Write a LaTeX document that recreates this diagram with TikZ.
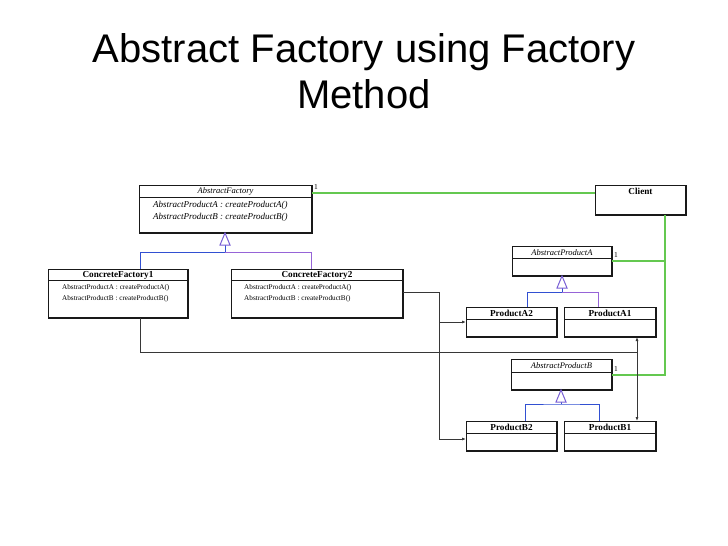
\documentclass[tikz,border=0pt]{standalone}
\usepackage{fontspec}
\setmainfont{Liberation Serif}
\newfontfamily\titlefont{Liberation Sans}
\usetikzlibrary{arrows.meta}
\definecolor{umlgreen}{RGB}{100,200,80}
\definecolor{umlblue}{RGB}{50,80,210}
\definecolor{umlviolet}{RGB}{150,100,215}
\definecolor{umlline}{RGB}{55,55,55}
\definecolor{umlbox}{RGB}{25,25,25}
\tikzset{
 classbox/.style={draw=umlbox, line width=1pt, fill=white, inner sep=0pt, outer sep=0pt},
 clsname/.style={font=\bfseries\fontsize{9.2}{10}\selectfont, inner sep=0pt},
 absname/.style={font=\itshape\fontsize{8.5}{10}\selectfont, inner sep=0pt},
 optext/.style={font=\fontsize{7.2}{10}\selectfont, inner sep=0pt, anchor=west},
 absop/.style={font=\itshape\fontsize{9}{12}\selectfont, inner sep=0pt, anchor=west},
 assoc/.style={draw=umlgreen, line width=1.4pt},
 dep/.style={draw=umlline, line width=0.9pt},
 deparrow/.style={dep, -{Latex[length=4pt,width=3pt]}},
 gen/.style={draw=umlblue, line width=1pt},
 genv/.style={draw=umlviolet, line width=1pt},
 gentri/.style={draw=umlviolet!70!umlblue, line width=1pt, fill=white},
 mult/.style={font=\fontsize{7.5}{8}\selectfont, inner sep=0pt, anchor=west},
}
\newcommand{\umlclass}[8]{%
 \node[classbox, anchor=north west, minimum width={#4-#2}, minimum height={#5-#3}] (#1) at (#2,#3) {};
 \draw[umlbox, line width=2pt] (#1.north east) -- (#1.south east) -- (#1.south west);
 \draw[umlbox, line width=1pt] (#2,#6) -- (#4,#6);
 \node[#7] (#1-name) at ({(#2+#4)/2},{(#3+#6)/2+0.5}) {#8};
}
\begin{document}
\begin{tikzpicture}[x=1pt,y=-1pt]
\useasboundingbox[fill=white] (0,0) rectangle (728,546);

% title
\node[font=\titlefont\fontsize{40}{46}\selectfont, align=center, anchor=north, inner sep=0pt] (title) at (364,33) {Abstract Factory using Factory\\Method};

% classes
\umlclass{af}{139}{185}{312}{233}{197}{absname}{AbstractFactory}
\node[absop] (af-op1) at (153,205) {AbstractProductA : createProductA()};
\node[absop] (af-op2) at (153,217) {AbstractProductB : createProductB()};

\node[classbox, anchor=north west, minimum width=91, minimum height=30] (client) at (595,185) {};
\draw[umlbox, line width=2pt] (client.north east) -- (client.south east) -- (client.south west);
\node[clsname] (client-name) at (640.5,191.5) {Client};

\umlclass{cf1}{48}{269}{188}{318}{280}{clsname}{ConcreteFactory1}
\node[optext] (cf1-op1) at (62,288) {AbstractProductA : createProductA()};
\node[optext] (cf1-op2) at (62,298.5) {AbstractProductB : createProductB()};

\umlclass{cf2}{231}{269}{403}{318}{280}{clsname}{ConcreteFactory2}
\node[optext] (cf2-op1) at (244,288) {AbstractProductA : createProductA()};
\node[optext] (cf2-op2) at (244,298.5) {AbstractProductB : createProductB()};

\umlclass{apa}{512}{246}{612}{276}{258}{absname}{AbstractProductA}
\umlclass{pa2}{466}{307}{557}{337}{319}{clsname}{ProductA2}
\umlclass{pa1}{564}{307}{656}{337}{319}{clsname}{ProductA1}
\umlclass{apb}{511}{359}{612}{390}{372}{absname}{AbstractProductB}
\umlclass{pb2}{466}{421}{557}{451}{433}{clsname}{ProductB2}
\umlclass{pb1}{564}{421}{656}{451}{433}{clsname}{ProductB1}

% associations (green)
\coordinate (assocY) at (0,193);
\coordinate (assocA) at (0,261);
\coordinate (assocB) at (0,375);
\coordinate (gx) at (665,0);
\draw[assoc] (af.east |- assocY) -- (client.west |- assocY);
\draw[assoc] (client.south -| gx) -- (gx |- assocB) -- (apb.east |- assocB);
\draw[assoc] (apa.east |- assocA) -- (gx |- assocA);
\node[mult] (m1) at (314,187) {1};
\node[mult] (m2) at (614,255) {1};
\node[mult] (m3) at (614,369) {1};

% generalization: factories
\coordinate (afj1) at (140,252);
\coordinate (afj2) at (311,252);
\coordinate (afst) at (225,252);
\draw[gen] (cf1.north -| afj1) -- (afj1) -- (afst);
\draw[genv] (afst) -- (afj2) -- (cf2.north -| afj2);
\draw[gen] (afst) -- ++(0,-7);
\draw[gentri] (af.south -| afst) -- ++(5,12) -- ++(-10,0) -- cycle;

% generalization: products A
\coordinate (paj1) at (527,292);
\coordinate (paj2) at (598,292);
\coordinate (past) at (562,292);
\draw[gen] (pa2.north -| paj1) -- (paj1) -- (past);
\draw[genv] (past) -- (paj2) -- (pa1.north -| paj2);
\draw[gen] (past) -- ++(0,-5);
\draw[gentri] (apa.south -| past) -- ++(5,12) -- ++(-10,0) -- cycle;

% generalization: products B
\coordinate (pbj1) at (525,404);
\coordinate (pbj2) at (599,404);
\coordinate (pbst) at (561,404);
\draw[gen] (pb2.north -| pbj1) -- (pbj1) -- (pbst) -- (pbj2) -- (pb1.north -| pbj2);
\draw[gen] (pbst) -- ++(0,-3);
\draw[gentri] (apb.south -| pbst) -- ++(5,12) -- ++(-10,0) -- cycle;

% dependencies
\coordinate (d1) at (140,352);
\coordinate (d2) at (637,352);
\draw[dep] (cf1.south -| d1) -- (d1) -- (d2);
\draw[deparrow] (d2) -- (pa1.south -| d2);
\draw[deparrow] (d2) -- (pb1.north -| d2);
\coordinate (e1) at (439,292);
\coordinate (e2) at (439,322);
\coordinate (e3) at (439,439);
\draw[dep] (cf2.east |- e1) -- (e1) -- (e3);
\draw[deparrow] (e2) -- (pa2.west |- e2);
\draw[deparrow] (e3) -- (pb2.west |- e3);
\end{tikzpicture}
\end{document}
